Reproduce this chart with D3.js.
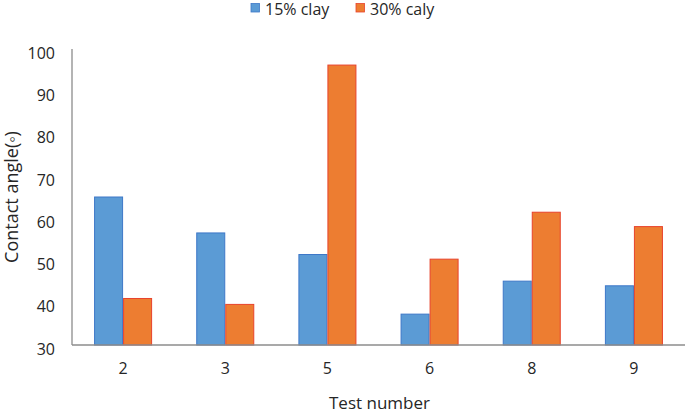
<!DOCTYPE html>
<html>
<head>
<meta charset="utf-8">
<script src="https://cdn.jsdelivr.net/npm/d3@7"></script>
<style>
  html, body { margin: 0; padding: 0; background: #fff; }
  svg { display: block; font-family: "Open Sans", sans-serif; }
</style>
</head>
<body>
<div id="app"></div>
<script>
/////////DATA///////////

const tests = ['2', '3', '5', '6', '8', '9'];
const series = ['15% clay', '30% caly'];
const clay15 = [65.0, 56.5, 51.4, 37.3, 45.1, 44.0];
const clay30 = [41.0, 39.6, 96.2, 50.3, 61.4, 58.0];
const yTicks = [30, 40, 50, 60, 70, 80, 90, 100];

const fills = ['#5B9BD5', '#ED7D31'];
const strokes = ['#3E78C8', '#E8432C'];

/////////SVG///////////

const w = 685;
const h = 411;
const padLeft = 72, padRight = 685, padTop = 49, padBottom = 345;

const svg = d3.select('#app')
  .append('svg')
  .attr('width', w)
  .attr('height', h);

const xScale = d3.scaleBand()
  .domain(tests)
  .range([padLeft, padRight])
  .paddingInner(0.432)
  .paddingOuter(0.216);

const xSub = d3.scaleBand()
  .domain(series)
  .range([0, xScale.bandwidth()]);

const yScale = d3.scaleLinear()
  .domain([30, 100])
  .range([padBottom, padTop]);

/////////AXES/////////

const yAxis = d3.axisLeft(yScale)
  .tickValues(yTicks)
  .tickSize(0)
  .tickPadding(17);

const gy = svg.append('g')
  .attr('transform', 'translate(' + padLeft + ',0)')
  .call(yAxis);
gy.select('.domain').remove();
gy.selectAll('text')
  .attr('dy', '0.58em')
  .style('font-size', '16px')
  .style('font-family', '"Open Sans", sans-serif')
  .attr('fill', '#262626');

const xAxis = d3.axisBottom(xScale)
  .tickSize(0)
  .tickPadding(18);

const gx = svg.append('g')
  .attr('transform', 'translate(0,' + padBottom + ')')
  .call(xAxis);
gx.select('.domain').remove();
gx.selectAll('text')
  .style('font-size', '16px')
  .style('font-family', '"Open Sans", sans-serif')
  .attr('fill', '#262626');

/////////BARS/////////

const rows = tests.map((t, i) => ({ test: t, values: [clay15[i], clay30[i]] }));

svg.append('g')
  .selectAll('g')
  .data(rows)
  .join('g')
  .attr('transform', (d) => 'translate(' + xScale(d.test) + ',0)')
  .selectAll('rect')
  .data((d) => d.values.map((v, k) => ({ key: series[k], k: k, v: v })))
  .join('rect')
  .attr('x', (d) => xSub(d.key) + 0.5)
  .attr('y', (d) => yScale(d.v))
  .attr('width', xSub.bandwidth() - 1)
  .attr('height', (d) => padBottom - yScale(d.v))
  .attr('fill', (d) => fills[d.k])
  .attr('stroke', (d) => strokes[d.k])
  .attr('stroke-width', 1);

// axis lines drawn on top of bars
svg.append('line')
  .attr('x1', padLeft).attr('x2', padLeft)
  .attr('y1', padTop).attr('y2', padBottom)
  .attr('stroke', '#8c8c8c')
  .attr('stroke-width', 1.3);

svg.append('line')
  .attr('x1', padLeft).attr('x2', padRight)
  .attr('y1', padBottom).attr('y2', padBottom)
  .attr('stroke', '#8c8c8c')
  .attr('stroke-width', 1.5);

/////////TITLES/////////

svg.append('text')
  .attr('x', (padLeft + padRight) / 2 + 1)
  .attr('y', 409)
  .attr('text-anchor', 'middle')
  .attr('fill', '#262626')
  .style('font-size', '17px')
  .text('Test number');

svg.append('text')
  .attr('transform', 'rotate(-90)')
  .attr('x', -(padTop + padBottom) / 2)
  .attr('y', 18)
  .attr('text-anchor', 'middle')
  .attr('fill', '#262626')
  .style('font-size', '18px')
  .text('Contact angle(\u25E6)');

/////////LEGEND//////////

const legendX = [251, 356];
const legend = svg.append('g');

legend.selectAll('rect')
  .data(series)
  .join('rect')
  .attr('x', (d, i) => legendX[i])
  .attr('y', 3.5)
  .attr('width', 8.5)
  .attr('height', 8.5)
  .attr('fill', (d, i) => fills[i])
  .attr('stroke', (d, i) => strokes[i])
  .attr('stroke-width', 0.8);

legend.selectAll('text')
  .data(series)
  .join('text')
  .attr('x', (d, i) => legendX[i] + 14)
  .attr('y', 15)
  .attr('fill', '#262626')
  .style('font-size', '16px')
  .text((d) => d);
</script>
</body>
</html>
